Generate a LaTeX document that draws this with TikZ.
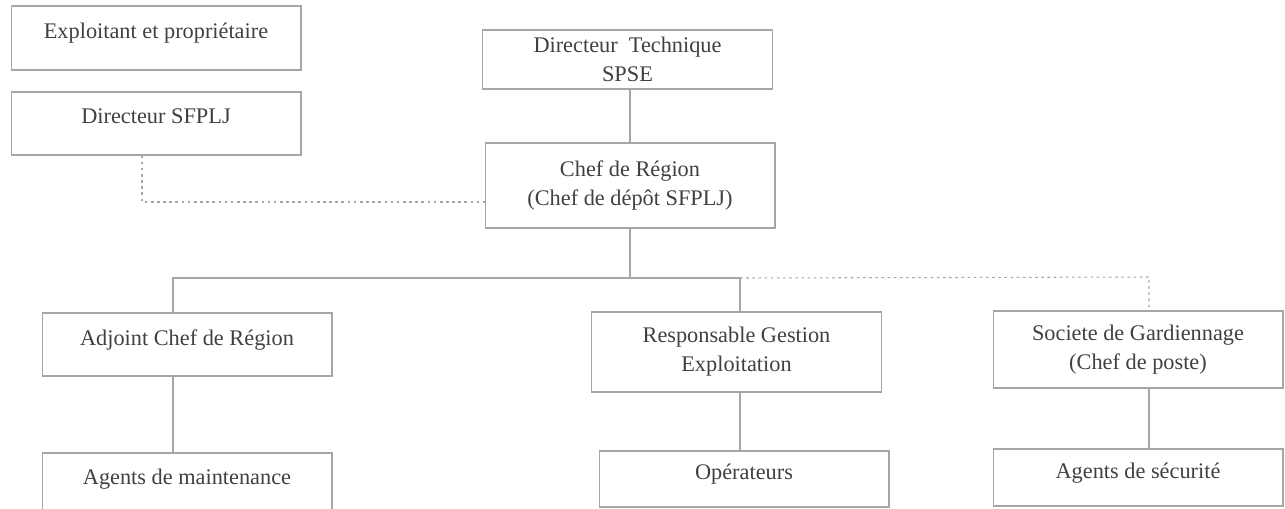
\documentclass[tikz,border=0pt]{standalone}
\usepackage{fontspec}
\setmainfont{Liberation Serif}
\usetikzlibrary{positioning,calc}

\begin{document}
\begin{tikzpicture}[
    x=0.02cm, y=-0.02cm,
    font=\fontsize{12.7}{16.5}\selectfont,
    unit/.style={
        draw=black!35,
        text=black!75,
        minimum width=5.8cm,
        minimum height=#1,
        align=center,
        inner sep=2pt,
        line width=0.6pt
    },
    single/.style={text depth=0.29cm},
    link/.style={draw=black!35, line width=0.6pt},
    dotlink/.style={draw=black!35, line width=0.6pt, dash pattern=on 1.5pt off 2pt}
]
\useasboundingbox (0,0) rectangle (1285,508);

%-----------------------------------
% Top: owner and direction
%-----------------------------------
\node[unit=1.28cm, single] (Owner) at (156,38) {Exploitant et propriétaire};
\node[unit=1.26cm, single] (DirSF) at (156,123.5) {Directeur SFPLJ};

\node[unit=1.18cm, text depth=0pt] (DirTech) at (627.5,59.5) {Directeur\ \ Technique\\SPSE};
\node[unit=1.7cm] (Chef) at (630,185.5) {Chef de Région\\(Chef de dépôt SFPLJ)};

%-----------------------------------
% Middle row
%-----------------------------------
\node[unit=1.26cm, single] (Adj) at (187,344.5) {Adjoint Chef de Région};
\node[unit=1.6cm] (Resp) at (736.5,352) {Responsable Gestion\\Exploitation};
\node[unit=1.54cm] (Soc) at (1138,349.5) {Societe de Gardiennage\\(Chef de poste)};

%-----------------------------------
% Bottom row
%-----------------------------------
\node[unit=1.24cm, single] (AgM) at (187,484) {Agents de maintenance};
\node[unit=1.12cm, single] (Oper) at (744,479) {Opérateurs};
\node[unit=1.14cm, single] (AgS) at (1138,477.5) {Agents de sécurité};

%-----------------------------------
% Links
%-----------------------------------
\coordinate (busL) at (173,278);
\coordinate (busR) at (740,278);
\coordinate (dotR) at (1149,277);
\coordinate (dashC) at (142,202);

\draw[link] (Chef.north) -- (Chef.north |- DirTech.south);
\draw[link] (Chef.south) -- (Chef.south |- busL);
\draw[link] (Adj.north -| busL) -- (busL) -- (busR) -- (busR |- Resp.north);
\draw[link] (Adj.south -| busL) -- (AgM.north -| busL);
\draw[link] (Resp.south -| busR) -- (Oper.north -| busR);
\draw[link] (Soc.south -| dotR) -- (AgS.north -| dotR);

\draw[dotlink] (busR) -- (dotR) -- (Soc.north -| dotR);
\draw[dotlink] (DirSF.south -| dashC) -- (dashC) -- (dashC -| Chef.west);

\end{tikzpicture}
\end{document}
